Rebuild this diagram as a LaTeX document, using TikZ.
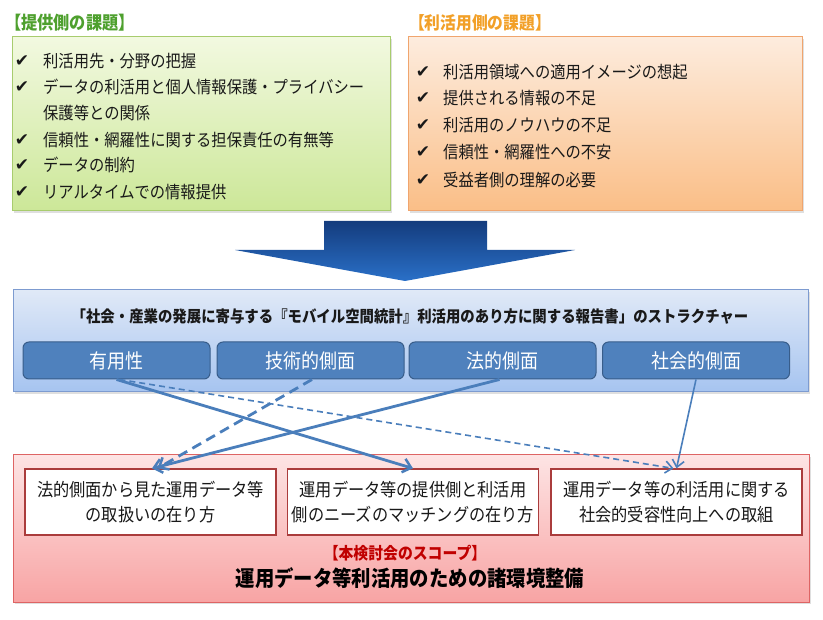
\documentclass[tikz,border=0pt]{standalone}
\usepackage{fontspec}
\setmainfont{Noto Sans CJK JP}[FakeStretch=0.9]
\newfontfamily\checkfont{DejaVu Sans}
\usepackage{tikz}
\usepackage{xcolor}
\usetikzlibrary{
    arrows.meta,
    shadows
}

\definecolor{txtdark}{RGB}{25,25,25}
\definecolor{provgreen}{RGB}{78,160,46}
\definecolor{useorange}{RGB}{242,160,40}
\definecolor{linkblue}{RGB}{74,126,187}
\definecolor{btnblue}{RGB}{79,129,189}
\definecolor{btnedge}{RGB}{56,93,138}
\definecolor{scopered}{RGB}{192,0,0}

\tikzset{
    panel/.style={draw, line width=1pt, inner sep=0pt, drop shadow={opacity=0.25, shadow xshift=2pt, shadow yshift=-2pt}},
    chk/.style={font=\checkfont\fontsize{17}{17}\selectfont, text=txtdark, inner sep=0pt},
    itemtxt/.style={anchor=west, font=\fontsize{17}{17}\selectfont, text=txtdark, inner sep=0pt},
    btn/.style={draw=btnedge, fill=btnblue, rounded corners=6pt, line width=1pt, minimum width=187pt, minimum height=37pt, text=white, font=\fontsize{20}{20}\selectfont},
    outbox/.style={draw={rgb,255:red,170;green,60;blue,60}, fill=white, line width=1.2pt, minimum width=251pt, minimum height=66pt, align=center, text=txtdark, font=\fontsize{18}{25}\selectfont},
    link/.style={draw=linkblue, line width=2.8pt, -{Straight Barb[length=8pt,width=14pt,line width=2.5pt]}},
    thinlink/.style={draw=linkblue, line width=1.6pt, -{Straight Barb[length=7pt,width=12pt,line width=1.6pt]}}
}

\begin{document}
\begin{tikzpicture}[x=1pt, y=-1pt]
            \fill[white] (0,0) rectangle (823,620);
            \useasboundingbox (0,0) rectangle (823,620);

            % provider side
            \node[anchor=west, inner sep=0pt, text=provgreen, font=\bfseries\fontsize{18}{18}\selectfont] (provtitle) at (5,23) {【提供側の課題】};
            \node[panel, draw={rgb,255:red,168;green,204;blue,110}, top color={rgb,255:red,242;green,249;blue,224}, bottom color={rgb,255:red,204;green,231;blue,152}, minimum width=378pt, minimum height=174pt] (provbox) at (201,124) {};

            \node[chk] (provchk1) at (22, 61) {✔};
            \node[chk] (provchk2) at (22, 87) {✔};
            \node[chk] (provchk4) at (22,140) {✔};
            \node[chk] (provchk5) at (22,165) {✔};
            \node[chk] (provchk6) at (22,192) {✔};
            \node[itemtxt] (prov1) at (43, 61) {利活用先・分野の把握};
            \node[itemtxt] (prov2) at (43, 87) {データの利活用と個人情報保護・プライバシー};
            \node[itemtxt] (prov3) at (43,113) {保護等との関係};
            \node[itemtxt] (prov4) at (43,140) {信頼性・網羅性に関する担保責任の有無等};
            \node[itemtxt] (prov5) at (43,165) {データの制約};
            \node[itemtxt] (prov6) at (43,192) {リアルタイムでの情報提供};

            % user side
            \node[anchor=west, inner sep=0pt, text=useorange, font=\bfseries\fontsize{17.5}{18}\selectfont] (usetitle) at (409,23) {【利活用側の課題】};
            \node[panel, draw={rgb,255:red,240;green,165;blue,110}, top color={rgb,255:red,253;green,236;blue,222}, bottom color={rgb,255:red,250;green,190;blue,135}, minimum width=394pt, minimum height=174pt] (usebox) at (605,124) {};

            \node[chk] (usechk1) at (423, 72) {✔};
            \node[chk] (usechk2) at (423, 98) {✔};
            \node[chk] (usechk3) at (423,125) {✔};
            \node[chk] (usechk4) at (423,152) {✔};
            \node[chk] (usechk5) at (423,180) {✔};
            \node[itemtxt] (use1) at (443, 72) {利活用領域への適用イメージの想起};
            \node[itemtxt] (use2) at (443, 98) {提供される情報の不足};
            \node[itemtxt] (use3) at (443,125) {利活用のノウハウの不足};
            \node[itemtxt] (use4) at (443,152) {信頼性・網羅性への不安};
            \node[itemtxt] (use5) at (443,180) {受益者側の理解の必要};

            % big arrow
            \shade[top color={rgb,255:red,20;green,60;blue,125}, bottom color={rgb,255:red,42;green,112;blue,200}]
                (324,221) -- (487,221) -- (487,250) -- (575,250) -- (405,281) -- (235,250) -- (324,250) -- cycle;

            % report structure
            \node[panel, draw={rgb,255:red,125;green,155;blue,208}, top color={rgb,255:red,224;green,233;blue,247}, bottom color={rgb,255:red,166;green,196;blue,240}, minimum width=795pt, minimum height=102pt] (report) at (410.5,341) {};
            \node[text=txtdark, inner sep=0pt, font=\bfseries\fontsize{16}{16}\selectfont] (reporttitle) at (410,317) {「社会・産業の発展に寄与する『モバイル空間統計』利活用のあり方に関する報告書」のストラクチャー};

            \node[btn] (btn1) at (116.5,360.5) {有用性};
            \node[btn] (btn2) at (310.5,360.5) {技術的側面};
            \node[btn] (btn3) at (502.5,360.5) {法的側面};
            \node[btn] (btn4) at (696,360.5) {社会的側面};

            % scope
            \node[panel, draw={rgb,255:red,222;green,100;blue,100}, top color={rgb,255:red,253;green,228;blue,228}, bottom color={rgb,255:red,248;green,164;blue,164}, minimum width=796pt, minimum height=147pt] (scope) at (411,528.5) {};

            \node[outbox] (out1) at (150.5,502) {法的側面から見た運用データ等\\の取扱いの在り方};
            \node[outbox] (out2) at (413,502) {運用データ等の提供側と利活用\\側のニーズのマッチングの在り方};
            \node[outbox] (out3) at (676.5,502) {運用データ等の利活用に関する\\社会的受容性向上への取組};

            \node[text=scopered, inner sep=0pt, font=\bfseries\fontsize{16.5}{17}\selectfont] (scopetitle) at (405,553) {【本検討会のスコープ】};
            \node[text=black, inner sep=0pt, font=\bfseries\fontsize{21.5}{22}\selectfont] (scopemain) at (410,578) {運用データ等利活用のための諸環境整備};

            % links
            \draw[link] (btn1.south) -- (out2.north);
            \draw[link] ([xshift=-3pt]btn3.south) -- ([xshift=1.5pt]out1.north);
            \draw[link, dash pattern=on 10pt off 6pt] ([xshift=1.5pt]btn2.south) -- ([xshift=7pt]out1.north);
            \draw[thinlink] (btn4.south) -- (out3.north);
            \draw[thinlink, dash pattern=on 6pt off 4pt] ([xshift=3pt]btn1.south) -- ([xshift=-3pt]out3.north);
\end{tikzpicture}
\end{document}
